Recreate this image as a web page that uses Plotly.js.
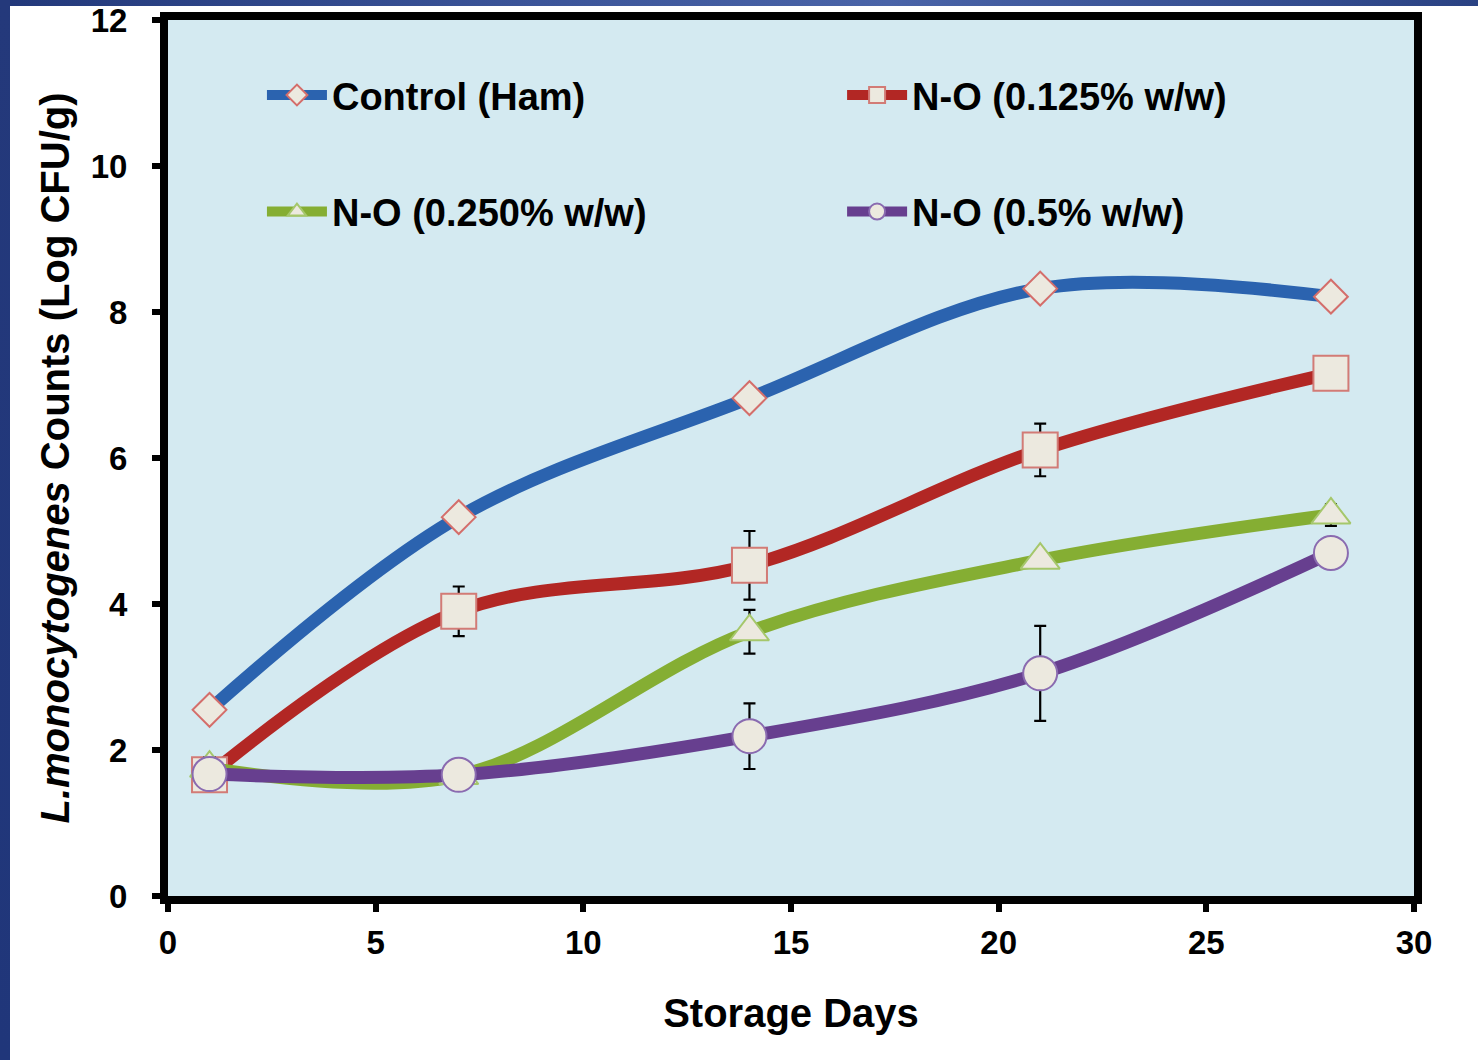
<!DOCTYPE html>
<html><head><meta charset="utf-8">
<script src="https://cdn.plot.ly/plotly-3.0.1.min.js"></script>
<style>
html,body{margin:0;padding:0;width:1478px;height:1060px;overflow:hidden;background:#ffffff;}
#topband{position:absolute;left:0;top:0;width:1478px;height:6px;background:linear-gradient(90deg,#22387a 0%,#3b5498 35%,#4a64a8 60%,#2a4283 100%);}
#leftband{position:absolute;left:0;top:0;width:10px;height:1060px;background:linear-gradient(180deg,#24397b 0%,#20367a 100%);}
#chart{position:absolute;left:0;top:0;width:1478px;height:1060px;}
</style></head><body><div id="topband"></div><div id="leftband"></div><div id="chart"></div>
<script>
const days = [1, 7, 14, 21, 28];
const seriesNames = ['Control (Ham)', 'N-O (0.125% w/w)', 'N-O (0.250% w/w)', 'N-O (0.5% w/w)'];
const control = [2.55, 5.19, 6.82, 8.32, 8.21];
const no0125 = [1.66, 3.90, 4.53, 6.11, 7.16];
const no0125Err = [0.05, 0.34, 0.47, 0.36, 0.05];
const no0250 = [1.75, 1.65, 3.62, 4.60, 5.22];
const no0250Err = [0.15, 0.10, 0.30, 0.10, 0.15];
const no05 = [1.67, 1.66, 2.19, 3.05, 4.70];
const no05Err = [0.05, 0.05, 0.45, 0.65, 0.10];
const xTicks = [0, 5, 10, 15, 20, 25, 30];
const yTicks = [0, 2, 4, 6, 8, 10, 12];

const FONT = 'Liberation Sans, Arial, sans-serif';
const fill = '#ece9df';
function errs(arr) {
  return {type: 'data', array: arr, visible: true, color: '#000', thickness: 2.2, width: 6};
}
const traces = [
  {x: days, y: control, name: seriesNames[0], legend: 'legend',
   mode: 'lines+markers', line: {color: '#2b63af', width: 13, shape: 'spline', smoothing: 1},
   marker: {symbol: 'diamond', size: 26, color: fill, line: {color: '#d46e6b', width: 2}}},
  {x: days, y: no0125, name: seriesNames[1], legend: 'legend2', error_y: errs(no0125Err),
   mode: 'lines+markers', line: {color: '#b22724', width: 13, shape: 'spline', smoothing: 1},
   marker: {symbol: 'square', size: 35, color: fill, line: {color: '#d27b76', width: 2}}},
  {x: days, y: no0250, name: seriesNames[2], legend: 'legend3', error_y: errs(no0250Err),
   mode: 'lines+markers', line: {color: '#85ae33', width: 13, shape: 'spline', smoothing: 1},
   marker: {symbol: 'triangle-up', size: 34, color: fill, line: {color: '#a5c76b', width: 2}}},
  {x: days, y: no05, name: seriesNames[3], legend: 'legend4', error_y: errs(no05Err),
   mode: 'lines+markers', line: {color: '#673f8f', width: 13, shape: 'spline', smoothing: 1},
   marker: {symbol: 'circle', size: 34, color: fill, line: {color: '#8a6bb0', width: 2}}}
];

function leg(x, y) {
  return {x: x, y: y, xanchor: 'left', yanchor: 'middle', bgcolor: 'rgba(0,0,0,0)',
    borderwidth: 0, itemwidth: 60,
    font: {family: FONT, size: 38, color: '#000', weight: 'bold'}};
}

const layout = {
  width: 1478, height: 1060,
  margin: {l: 168, r: 64, t: 20, b: 164},
  paper_bgcolor: 'rgba(0,0,0,0)',
  plot_bgcolor: '#d4eaf1',
  showlegend: true,
  legend: leg(0.0754, 0.914),
  legend2: leg(0.541, 0.914),
  legend3: leg(0.0754, 0.781),
  legend4: leg(0.541, 0.781),
  xaxis: {
    range: [0, 30], tickvals: xTicks, ticktext: xTicks.map(String),
    showgrid: false, zeroline: false,
    showline: true, linecolor: '#000', linewidth: 8, mirror: true,
    ticks: 'outside', ticklen: 8, tickwidth: 6, tickcolor: '#000',
    ticklabelstandoff: 2, ticklabeloverflow: 'allow',
    tickfont: {family: FONT, size: 33, color: '#000', weight: 'bold'},
    title: {text: 'Storage Days', standoff: 42,
      font: {family: FONT, size: 40, color: '#000', weight: 'bold'}}
  },
  yaxis: {
    range: [0, 12], tickvals: yTicks, ticktext: yTicks.map(String),
    showgrid: false, zeroline: false,
    showline: true, linecolor: '#000', linewidth: 8, mirror: true,
    ticks: 'outside', ticklen: 8, tickwidth: 6, tickcolor: '#000',
    ticklabelstandoff: 18, ticklabeloverflow: 'allow',
    tickfont: {family: FONT, size: 33, color: '#000', weight: 'bold'},
    title: {text: '<i>L.monocytogenes</i> Counts (Log CFU/g)', standoff: 12,
      font: {family: FONT, size: 40, color: '#000', weight: 'bold'}}
  }
};

Plotly.newPlot('chart', traces, layout, {displayModeBar: false, staticPlot: true});
</script></body></html>
